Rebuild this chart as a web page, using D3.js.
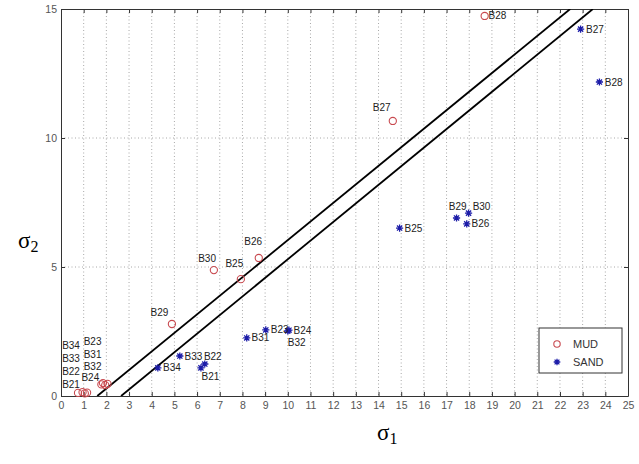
<!DOCTYPE html>
<html><head><meta charset="utf-8">
<script src="https://cdn.jsdelivr.net/npm/d3@7"></script>
<style>body{margin:0;background:#fff}svg{display:block}</style>
</head><body>
<script>
// ---- data ----
const xTicks = d3.range(0, 26, 1);
const yTicks = [0, 5, 10, 15];

const mudNames = ["B28","B27","B26","B30","B25","B29","B23","B31","B32","B24","B34","B33","B22","B21"];
const mudX     = [18.68,14.63,8.72,6.74,7.93,4.89,1.78,1.85,1.95,2.05,0.75,0.95,1.05,1.15];
const mudY     = [14.73,10.66,5.35,4.88,4.53,2.79,0.45,0.50,0.42,0.47,0.12,0.15,0.10,0.13];
// label anchor positions (data units, as in MATLAB text())
const mudLabX  = [18.85,13.75,8.08,6.05,7.25,3.95,1.0,1.0,1.0,0.9,0.05,0.05,0.05,0.05];
const mudLabY  = [14.73,11.2,5.98,5.33,5.15,3.23,2.12,1.62,1.14,0.7,1.95,1.45,0.95,0.45];

const sandNames = ["B27","B28","B25","B29","B30","B26","B23","B24","B32","B31","B33","B22","B21","B34"];
const sandX     = [22.91,23.74,14.93,17.44,17.97,17.89,9.03,10.0,10.05,8.19,5.24,6.34,6.17,4.27];
const sandY     = [14.22,12.17,6.51,6.90,7.09,6.67,2.56,2.52,2.55,2.25,1.55,1.24,1.09,1.09];
const sandLabX  = [23.15,23.98,15.15,17.1,18.15,18.1,9.25,10.25,10.0,8.4,5.45,6.3,6.2,4.5];
const sandLabY  = [14.22,12.17,6.51,7.35,7.35,6.67,2.56,2.52,2.08,2.25,1.55,1.55,0.77,1.09];

// boundary lines (endpoints in data units)
const line1 = [[1.6,0],[22.45,15]];
const line2 = [[2.65,0],[23.45,15]];

const legendNames = ["MUD","SAND"];

// ---- layout ----
const W = 639, H = 464;
const L = 61, R = 628, T = 9, B = 396;
const svg = d3.select("body").append("svg").attr("width", W).attr("height", H);
const x = d3.scaleLinear().domain([0,25]).range([L,R]);
const y = d3.scaleLinear().domain([0,15]).range([B,T]);

// grid
svg.append("g").selectAll("line").data(xTicks.filter(d=>d>0&&d<25)).join("line")
  .attr("x1",d=>x(d)).attr("x2",d=>x(d)).attr("y1",T).attr("y2",B)
  .attr("stroke","#a8a8a8").attr("stroke-width",1).attr("stroke-dasharray","1,2.5");
svg.append("g").selectAll("line").data(yTicks.filter(d=>d>0&&d<15)).join("line")
  .attr("x1",L).attr("x2",R).attr("y1",d=>y(d)).attr("y2",d=>y(d))
  .attr("stroke","#a8a8a8").attr("stroke-width",1).attr("stroke-dasharray","1,2.5");

// axes
const xAx = svg.append("g").attr("transform",`translate(0,${B})`)
  .call(d3.axisBottom(x).tickValues(xTicks).tickFormat(d3.format("d")).tickSizeInner(-4).tickSizeOuter(0).tickPadding(6));
const xAxT = svg.append("g").attr("transform",`translate(0,${T})`)
  .call(d3.axisTop(x).tickValues(xTicks).tickFormat("").tickSizeInner(-4).tickSizeOuter(0));
const yAx = svg.append("g").attr("transform",`translate(${L},0)`)
  .call(d3.axisLeft(y).tickValues(yTicks).tickFormat(d3.format("d")).tickSizeInner(-4).tickSizeOuter(0).tickPadding(4));
const yAxR = svg.append("g").attr("transform",`translate(${R},0)`)
  .call(d3.axisRight(y).tickValues(yTicks).tickFormat("").tickSizeInner(-4).tickSizeOuter(0));
[xAx,xAxT,yAx,yAxR].forEach(g=>{
  g.select(".domain").attr("stroke","#333");
  g.selectAll(".tick line").attr("stroke","#333");
  g.selectAll("text").attr("font-family","Liberation Sans, Arial, sans-serif").attr("font-size",10.5).attr("fill","#555");
});

// boundary lines
const lineGen = d3.line().x(d=>x(d[0])).y(d=>y(d[1]));
svg.append("defs").append("clipPath").attr("id","clip").append("rect")
  .attr("x",L).attr("y",T).attr("width",R-L).attr("height",B-T);
[line1,line2].forEach(l=>{
  svg.append("path").attr("d",lineGen(l)).attr("fill","none")
    .attr("stroke","#000").attr("stroke-width",1.8).attr("clip-path","url(#clip)");
});

// markers
const star = (cx,cy,r) => {
  const d = r*0.72;
  return `M${cx-r},${cy}L${cx+r},${cy}M${cx},${cy-r}L${cx},${cy+r}M${cx-d},${cy-d}L${cx+d},${cy+d}M${cx-d},${cy+d}L${cx+d},${cy-d}`;
};
const mudColor = "#c8494f", sandColor = "#1c1ca8";
svg.append("g").selectAll("circle").data(mudNames.map((n,i)=>i)).join("circle")
  .attr("cx",i=>x(mudX[i])).attr("cy",i=>y(mudY[i])).attr("r",3.6)
  .attr("fill","none").attr("stroke",mudColor).attr("stroke-width",1.1);
svg.append("g").selectAll("path").data(sandNames.map((n,i)=>i)).join("path")
  .attr("d",i=>star(x(sandX[i]),y(sandY[i]),3.6))
  .attr("fill","none").attr("stroke",sandColor).attr("stroke-width",1.3);

// labels
const lab = svg.append("g").attr("font-family","Liberation Sans, Arial, sans-serif").attr("font-size",10).attr("fill","#222");
lab.selectAll("text.m").data(mudNames.map((n,i)=>i)).join("text").attr("class","m")
  .attr("x",i=>x(mudLabX[i])).attr("y",i=>y(mudLabY[i])).attr("dy","0.35em").text(i=>mudNames[i]);
lab.selectAll("text.s").data(sandNames.map((n,i)=>i)).join("text").attr("class","s")
  .attr("x",i=>x(sandLabX[i])).attr("y",i=>y(sandLabY[i])).attr("dy","0.35em").text(i=>sandNames[i]);

// legend
const lg = svg.append("g");
lg.append("rect").attr("x",539).attr("y",328).attr("width",83).attr("height",45)
  .attr("fill","#fff").attr("stroke","#333").attr("stroke-width",1);
lg.append("circle").attr("cx",557).attr("cy",344).attr("r",3.2).attr("fill","none").attr("stroke",mudColor).attr("stroke-width",1.1);
lg.append("path").attr("d",star(557,362,3.3)).attr("fill","none").attr("stroke",sandColor).attr("stroke-width",1.3);
lg.selectAll("text").data(legendNames).join("text")
  .attr("x",573).attr("y",(d,i)=>344+i*18).attr("dy","0.35em")
  .attr("font-family","Liberation Sans, Arial, sans-serif").attr("font-size",11).attr("fill","#333").text(d=>d);

// axis titles
const t1 = svg.append("text").attr("x",377).attr("y",440).attr("font-family","Liberation Serif, Times New Roman, serif").attr("font-size",23).attr("fill","#000");
t1.append("tspan").text("σ");
t1.append("tspan").attr("font-size",16).attr("dy",4).text("1");
const t2 = svg.append("text").attr("x",18).attr("y",248).attr("font-family","Liberation Serif, Times New Roman, serif").attr("font-size",23).attr("fill","#000");
t2.append("tspan").text("σ");
t2.append("tspan").attr("font-size",16).attr("dy",4).text("2");
</script>
</body></html>
